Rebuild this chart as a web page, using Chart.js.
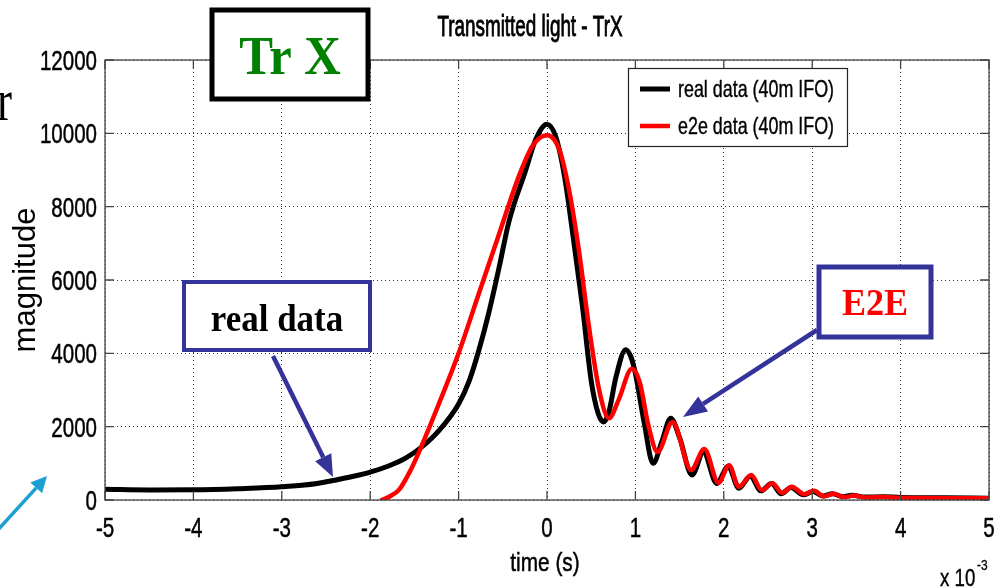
<!DOCTYPE html>
<html>
<head>
<meta charset="utf-8">
<title>Transmitted light - TrX</title>
<script src="https://cdn.jsdelivr.net/npm/chart.js@4.4.1/dist/chart.umd.min.js"></script>
<style>
  html, body { margin: 0; padding: 0; background: #fff; }
  #wrap { width: 998px; height: 588px; overflow: hidden; }
</style>
</head>
<body>
<div id="wrap"><canvas id="trx" width="998" height="588"></canvas></div>
<script>
// time in units of 1e-3 s, magnitude in counts
var xTickValues = [-5, -4, -3, -2, -1, 0, 1, 2, 3, 4, 5];
var yTickValues = [0, 2000, 4000, 6000, 8000, 10000, 12000];
var seriesNames = ['real data (40m IFO)', 'e2e data (40m IFO)'];

var realTime = [-5, -4.5, -4, -3.5, -3, -2.6, -2.4, -2.2, -2, -1.8, -1.6, -1.43, -1.22, -1, -0.88, -0.77, -0.66, -0.54,
                -0.43, -0.24, -0.13, 0, 0.1, 0.2, 0.3, 0.4, 0.5, 0.58, 0.64, 0.7, 0.78, 0.89, 0.95, 1.0, 1.1, 1.2,
                1.3, 1.4, 1.5, 1.64, 1.77, 1.92, 2.05, 2.17, 2.3, 2.42, 2.54, 2.65, 2.76, 2.9, 3.01, 3.12, 3.23,
                3.35, 3.45, 3.6, 3.8, 4.0, 4.5, 5.0];
var realMag = [290, 275, 280, 310, 360, 450, 540, 640, 760, 920, 1140, 1420, 1900, 2620, 3250, 4090, 5090, 6360,
               7600, 9000, 9820, 10250, 9900, 8800, 7100, 5300, 3250, 2350, 2130, 2400, 3350, 4100, 3900, 3450, 2100, 1000,
               1600, 2230, 1700, 680, 1300, 450, 920, 320, 650, 250, 450, 170, 340, 140, 230, 110, 170,
               90, 130, 80, 90, 70, 60, 50];

var e2eTime = [-1.87, -1.77, -1.67, -1.55, -1.43, -1.22, -1.0, -0.77, -0.54, -0.32, -0.17, -0.08, 0, 0.14,
               0.25, 0.36, 0.475, 0.59, 0.7, 0.81, 0.96, 1.05, 1.15, 1.25, 1.42, 1.63, 1.78, 1.94, 2.06,
               2.17, 2.31, 2.43, 2.55, 2.66, 2.77, 2.91, 3.02, 3.13, 3.24, 3.36, 3.47, 3.6, 3.8, 4.0, 4.5, 5.0];
var e2eMag = [0, 110, 290, 780, 1410, 2640, 4000, 5640, 7270, 8820, 9640, 9880, 9950, 9550,
              8450, 6820, 4720, 3000, 2230, 2730, 3580, 3200, 2000, 1310, 2130, 820, 1390, 470, 950,
              360, 680, 270, 460, 190, 360, 160, 250, 100, 170, 80, 120, 70, 80, 60, 50, 50];

var SANS = "'Liberation Sans', Arial, sans-serif";
var SERIF = "'Liberation Serif', 'Times New Roman', serif";
var BLUE = '#333399';

Chart.defaults.font.family = SANS;
Chart.defaults.color = '#000';

function toPoints(xs, ys) {
    return xs.map(function(t, i) { return { x: t, y: ys[i] }; });
}

// text drawn squeezed sideways, like the condensed plot lettering;
// an optional thin outline makes it a little heavier
function squeezed(ctx, text, x, y, sx, align, weight) {
    ctx.save();
    ctx.translate(x, y);
    ctx.scale(sx, 1);
    ctx.textAlign = align || 'left';
    ctx.fillText(text, 0, 0);
    if (weight) {
        ctx.strokeStyle = ctx.fillStyle;
        ctx.lineWidth = weight;
        ctx.strokeText(text, 0, 0);
    }
    ctx.restore();
}

function drawArrow(ctx, x1, y1, x2, y2, color, width, headLen, headHalf) {
    var ang = Math.atan2(y2 - y1, x2 - x1);
    var bx = x2 - headLen * Math.cos(ang), by = y2 - headLen * Math.sin(ang);
    ctx.strokeStyle = color;
    ctx.fillStyle = color;
    ctx.lineWidth = width;
    ctx.beginPath();
    ctx.moveTo(x1, y1);
    ctx.lineTo(bx, by);
    ctx.stroke();
    ctx.beginPath();
    ctx.moveTo(x2, y2);
    ctx.lineTo(bx + headHalf * Math.sin(ang), by - headHalf * Math.cos(ang));
    ctx.lineTo(bx - headHalf * Math.sin(ang), by + headHalf * Math.cos(ang));
    ctx.closePath();
    ctx.fill();
}

// solid axes box, inward tick marks and condensed tick labels
var frame = {
    id: 'frame',
    afterDatasetsDraw: function(chart) {
        var ctx = chart.ctx, a = chart.chartArea, x = chart.scales.x, y = chart.scales.y;
        ctx.save();
        ctx.strokeStyle = '#444';
        ctx.lineWidth = 1.3;
        ctx.strokeRect(a.left, a.top, a.right - a.left, a.bottom - a.top);
        ctx.beginPath();
        xTickValues.forEach(function(v) {
            var px = x.getPixelForValue(v);
            ctx.moveTo(px, a.bottom); ctx.lineTo(px, a.bottom - 9);
            ctx.moveTo(px, a.top); ctx.lineTo(px, a.top + 9);
        });
        yTickValues.forEach(function(v) {
            var py = y.getPixelForValue(v);
            ctx.moveTo(a.left, py); ctx.lineTo(a.left + 9, py);
            ctx.moveTo(a.right, py); ctx.lineTo(a.right - 9, py);
        });
        ctx.stroke();

        ctx.fillStyle = '#000';
        ctx.font = '27px ' + SANS;
        ctx.textBaseline = 'alphabetic';
        xTickValues.forEach(function(v) {
            squeezed(ctx, String(v), x.getPixelForValue(v), a.bottom + 37, 0.76, 'center', 0.5);
        });
        yTickValues.forEach(function(v) {
            squeezed(ctx, String(v), a.left - 8, y.getPixelForValue(v) + 10, 0.76, 'right', 0.5);
        });
        ctx.font = '26px ' + SANS;
        squeezed(ctx, 'time (s)', (a.left + a.right) / 2 - 2, 571, 0.8, 'center', 0.5);
        ctx.restore();
    }
};

// title, legend, exponent label and the slide callouts
var overlay = {
    id: 'overlay',
    afterDraw: function(chart) {
        var ctx = chart.ctx;
        ctx.save();
        ctx.textBaseline = 'alphabetic';

        // title
        ctx.fillStyle = '#000';
        ctx.font = '29px ' + SANS;
        squeezed(ctx, 'Transmitted light - TrX', 530, 36, 0.65, 'center', 0.9);

        // axis multiplier
        ctx.font = '24px ' + SANS;
        squeezed(ctx, 'x 10', 940, 586, 0.78, 'left', 0.4);
        ctx.font = '15px ' + SANS;
        squeezed(ctx, '-3', 977, 570, 0.8, 'left', 0.3);

        // legend
        ctx.fillStyle = '#fff';
        ctx.fillRect(628, 68, 220, 79);
        ctx.strokeStyle = '#222';
        ctx.lineWidth = 1.2;
        ctx.strokeRect(628.5, 68.5, 219, 78);
        var colors = ['#000', '#ff0000'];
        var widths = [5, 4.5];
        seriesNames.forEach(function(name, i) {
            var ly = 89 + i * 37;
            ctx.strokeStyle = colors[i];
            ctx.lineWidth = widths[i];
            ctx.beginPath();
            ctx.moveTo(640, ly);
            ctx.lineTo(670, ly);
            ctx.stroke();
            ctx.fillStyle = '#000';
            ctx.font = '24px ' + SANS;
            squeezed(ctx, name, 678, ly + 8, 0.745, 'left', 0.4);
        });

        // "r" from the slide text on the left
        ctx.fillStyle = '#000';
        ctx.font = '60px ' + SERIF;
        squeezed(ctx, 'r', -3, 120, 0.75, 'left');

        // Tr X label
        ctx.fillStyle = '#fff';
        ctx.fillRect(212, 10, 156, 89);
        ctx.strokeStyle = '#000';
        ctx.lineWidth = 5;
        ctx.strokeRect(212, 10, 156, 89);
        ctx.fillStyle = '#008000';
        ctx.font = 'bold 55px ' + SERIF;
        squeezed(ctx, 'Tr X', 290, 74, 0.92, 'center');

        // real data callout
        ctx.fillStyle = '#fff';
        ctx.fillRect(184, 282, 186, 68);
        ctx.strokeStyle = BLUE;
        ctx.lineWidth = 4;
        ctx.strokeRect(184, 282, 186, 68);
        ctx.fillStyle = '#000';
        ctx.font = 'bold 38px ' + SERIF;
        squeezed(ctx, 'real data', 277, 331, 0.92, 'center');
        drawArrow(ctx, 273, 356, 333, 477, BLUE, 4.5, 22, 9);

        // E2E callout
        ctx.fillStyle = '#fff';
        ctx.fillRect(819, 267, 112, 70);
        ctx.strokeStyle = BLUE;
        ctx.lineWidth = 5;
        ctx.strokeRect(819, 267, 112, 70);
        ctx.fillStyle = '#ff0000';
        ctx.font = 'bold 38px ' + SERIF;
        squeezed(ctx, 'E2E', 875, 315, 0.95, 'center');
        drawArrow(ctx, 817, 330, 683, 417, BLUE, 4.5, 24, 9);

        // cyan pointer at the lower left
        drawArrow(ctx, -4, 532, 47, 476, '#1ca0d2', 3.5, 16, 8);

        ctx.restore();
    }
};

var ctx = document.getElementById('trx').getContext('2d');
var trxChart = new Chart(ctx, {
    type: 'line',
    data: {
        datasets: [{
            label: seriesNames[0],
            data: toPoints(realTime, realMag),
            borderColor: '#000',
            borderWidth: 5,
            order: 1
        }, {
            label: seriesNames[1],
            data: toPoints(e2eTime, e2eMag),
            borderColor: '#ff0000',
            borderWidth: 4.5,
            order: 0
        }]
    },
    options: {
        responsive: false,
        animation: false,
        layout: { padding: { top: 60, right: 9, bottom: 0, left: 0 } },
        elements: {
            point: { radius: 0 },
            line: { cubicInterpolationMode: 'monotone', borderCapStyle: 'round', borderJoinStyle: 'round' }
        },
        plugins: {
            legend: { display: false },
            title: { display: false },
            tooltip: { enabled: false }
        },
        scales: {
            x: {
                type: 'linear',
                min: -5,
                max: 5,
                afterBuildTicks: function(s) { s.ticks = xTickValues.map(function(v) { return { value: v }; }); },
                afterFit: function(s) { s.height = 88; },
                grid: { color: '#333', lineWidth: 1, drawTicks: false },
                border: { display: false, dash: [1, 3] },
                ticks: { display: false }
            },
            y: {
                min: 0,
                max: 12000,
                afterBuildTicks: function(s) { s.ticks = yTickValues.map(function(v) { return { value: v }; }); },
                afterFit: function(s) { s.width = 105; },
                grid: { color: '#333', lineWidth: 1, drawTicks: false },
                border: { display: false, dash: [1, 3] },
                ticks: { display: false },
                title: {
                    display: true,
                    text: 'magnitude',
                    font: { size: 31 },
                    padding: { top: 8, bottom: 0 }
                }
            }
        }
    },
    plugins: [frame, overlay]
});
</script>
</body>
</html>
